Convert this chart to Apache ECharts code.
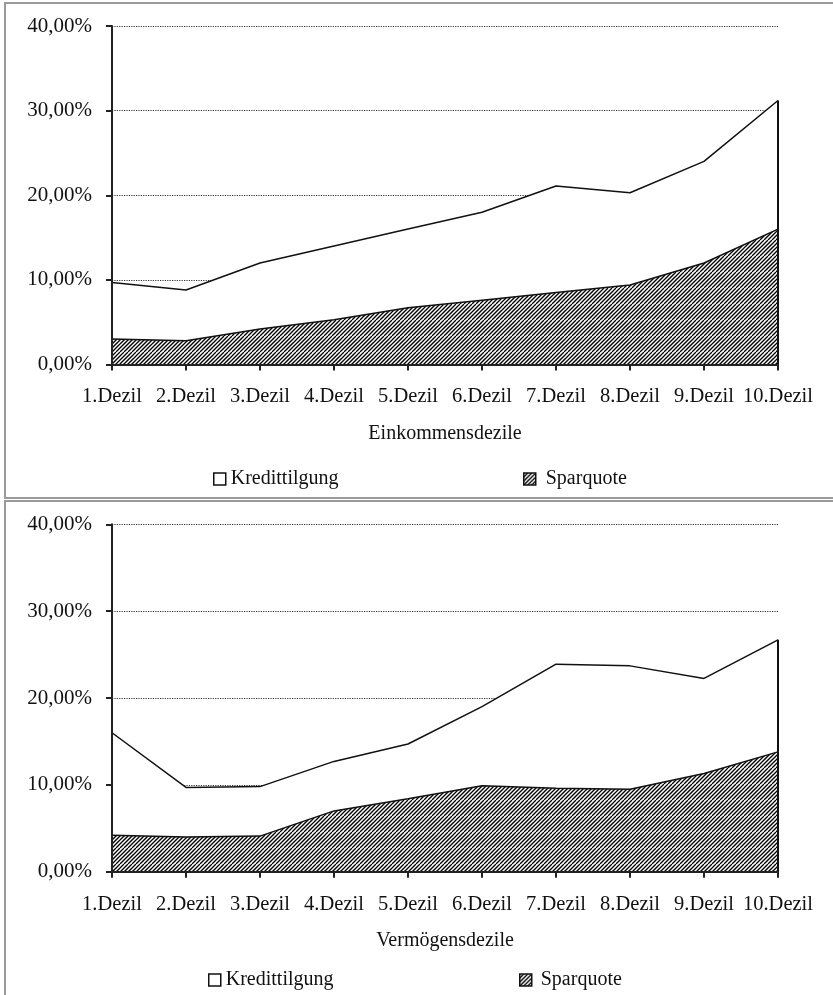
<!DOCTYPE html>
<html>
<head>
<meta charset="utf-8">
<script src="https://cdn.jsdelivr.net/npm/echarts@6/dist/echarts.min.js"></script>
<style>
html,body{margin:0;padding:0;background:#fff;}
#c{width:833px;height:995px;}
</style>
</head>
<body>
<div id="c"></div>
<script>
// ---- data ----
var categories = ['1.Dezil','2.Dezil','3.Dezil','4.Dezil','5.Dezil','6.Dezil','7.Dezil','8.Dezil','9.Dezil','10.Dezil'];
var yTicks = [0, 10, 20, 30, 40];
// Einkommensdezile (in %)
var einkSparquote = [3.0, 2.8, 4.2, 5.3, 6.7, 7.6, 8.5, 9.4, 12.0, 16.0];
var einkKredittilgung = [6.7, 6.0, 7.8, 8.7, 9.3, 10.4, 12.6, 10.9, 12.0, 15.2];
// Vermögensdezile (in %)
var vermSparquote = [4.2, 4.0, 4.1, 7.0, 8.4, 9.9, 9.6, 9.5, 11.3, 13.8];
var vermKredittilgung = [11.8, 5.7, 5.7, 5.7, 6.3, 9.1, 14.3, 14.2, 10.95, 12.9];
var seriesNames = ['Kredittilgung', 'Sparquote'];
var axisNames = ['Einkommensdezile', 'Vermögensdezile'];

// ---- hatch pattern ----
function makeHatch(size, step) {
  var cv = document.createElement('canvas');
  cv.width = size; cv.height = size;
  var ctx = cv.getContext('2d');
  ctx.fillStyle = '#ffffff';
  ctx.fillRect(0, 0, size, size);
  ctx.strokeStyle = '#000000';
  ctx.lineWidth = 1.3;
  for (var k = -size; k <= 2 * size; k += step) {
    ctx.beginPath();
    ctx.moveTo(k, size);
    ctx.lineTo(k + size, 0);
    ctx.stroke();
  }
  return cv;
}
var hatch = makeHatch(16, 4);
var hatchFill = { image: hatch, repeat: 'repeat' };

var FONT = "'Liberation Serif', 'Times New Roman', serif";
var TXT = '#111';

function fmtPct(v) { return v.toFixed(2).replace('.', ',') + '%'; }

var gridDefs = [
  { left: 112, right: 55, top: 26, height: 338.5 },
  { left: 112, right: 55, top: 524.3, height: 347.4 }
];

function xAxisDef(i) {
  return {
    type: 'category', gridIndex: i, data: categories, boundaryGap: false, z: 10,
    axisLine: { show: true, lineStyle: { color: '#222', width: 2 } },
    axisTick: { show: true, length: 6, inside: false, lineStyle: { color: '#222', width: 2 } },
    axisLabel: { interval: 0, fontFamily: FONT, fontSize: 20.5, color: TXT, margin: 22 },
    splitLine: { show: false },
    name: axisNames[i], nameLocation: 'middle', nameGap: 59,
    nameTextStyle: { fontFamily: FONT, fontSize: 20, color: TXT }
  };
}
// grid-line axis (under the series)
function yGridAxisDef(i) {
  return {
    type: 'value', gridIndex: i, position: 'left', z: 0,
    min: yTicks[0], max: yTicks[yTicks.length - 1], interval: 10,
    axisLine: { show: false }, axisTick: { show: false }, axisLabel: { show: false },
    splitLine: { show: true, lineStyle: { type: 'dotted', color: '#333', width: 1.2 } }
  };
}
// visible axis line, ticks and labels (above the series)
function yLineAxisDef(i) {
  return {
    type: 'value', gridIndex: i, position: 'left', z: 10,
    min: yTicks[0], max: yTicks[yTicks.length - 1], interval: 10,
    axisLine: { show: true, lineStyle: { color: '#222', width: 2 } },
    axisTick: { show: true, length: 6, lineStyle: { color: '#222', width: 2 } },
    axisLabel: { fontFamily: FONT, fontSize: 21, color: TXT, margin: 20, formatter: fmtPct },
    splitLine: { show: false }
  };
}

function seriesPair(i, yIdx, spar, kred) {
  var last = spar.length - 1;
  return [
    {
      name: seriesNames[1], type: 'line', xAxisIndex: i, yAxisIndex: yIdx, stack: 's' + i,
      data: spar, symbol: 'none', z: 4,
      lineStyle: { color: '#111', width: 1.5 },
      areaStyle: { color: hatchFill, opacity: 1 }
    },
    {
      name: seriesNames[0], type: 'line', xAxisIndex: i, yAxisIndex: yIdx, stack: 's' + i,
      data: kred, symbol: 'none', z: 3,
      lineStyle: { color: '#111', width: 1.5 },
      areaStyle: { color: '#ffffff', opacity: 1 },
      markLine: {
        silent: true, symbol: ['none', 'none'], label: { show: false },
        lineStyle: { color: '#111', width: 2, type: 'solid' },
        data: [[{ coord: [last, 0] }, { coord: [last, spar[last] + kred[last]] }]]
      }
    }
  ];
}

function legendDefs(top, leftK, leftS, padS) {
  var base = {
    orient: 'horizontal', top: top, itemWidth: 12, itemHeight: 12,
    selectedMode: false,
    textStyle: { fontFamily: FONT, fontSize: 20, color: TXT }
  };
  return [
    Object.assign({}, base, {
      left: leftK,
      data: [{ name: seriesNames[0], icon: 'rect', itemStyle: { color: '#fff', borderColor: '#111', borderWidth: 1.5 } }]
    }),
    Object.assign({}, base, {
      left: leftS,
      textStyle: { fontFamily: FONT, fontSize: 20, color: TXT, padding: [0, 0, 0, padS] },
      data: [{ name: seriesNames[1], icon: 'rect', itemStyle: { color: hatchFill, borderColor: '#111', borderWidth: 1.5 } }]
    })
  ];
}

var chart = echarts.init(document.getElementById('c'), null, { renderer: 'canvas' });
chart.setOption({
  backgroundColor: '#ffffff',
  animation: false,
  graphic: [
    { type: 'rect', shape: { x: 5, y: 3, width: 840, height: 495 }, style: { fill: 'none', stroke: '#9a9a9a', lineWidth: 2 }, silent: true },
    { type: 'rect', shape: { x: 5, y: 501, width: 840, height: 510 }, style: { fill: 'none', stroke: '#9a9a9a', lineWidth: 2 }, silent: true }
  ],
  grid: gridDefs,
  xAxis: [xAxisDef(0), xAxisDef(1)],
  yAxis: [yGridAxisDef(0), yLineAxisDef(0), yGridAxisDef(1), yLineAxisDef(1)],
  legend: legendDefs(464, 208, 518, 5).concat(legendDefs(965, 203, 514, 4)),
  series: seriesPair(0, 0, einkSparquote, einkKredittilgung).concat(seriesPair(1, 2, vermSparquote, vermKredittilgung))
});
</script>
</body>
</html>
